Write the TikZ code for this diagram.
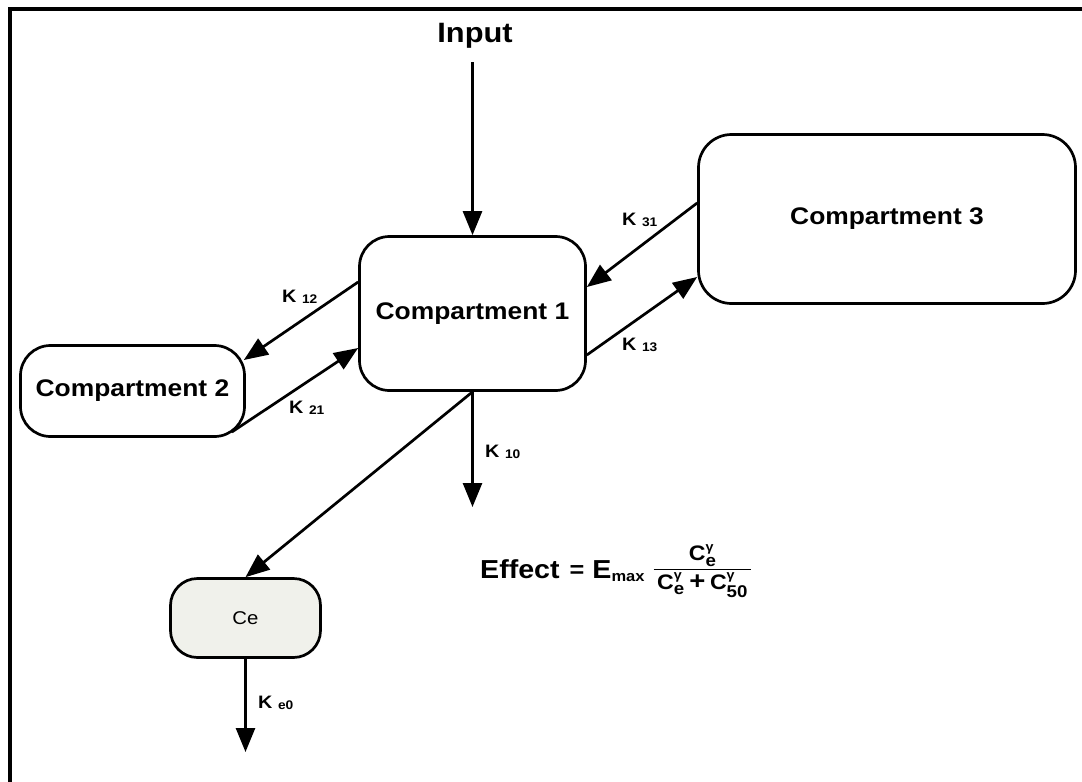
\documentclass[tikz,border=0pt]{standalone}
\usepackage{amsmath}
\usepackage{fontspec}
\setmainfont{Liberation Sans}[FakeStretch=1.1]
\usetikzlibrary{arrows.meta}

\definecolor{cefill}{RGB}{240,241,235}

% rate-constant label: bold K with a lowered index
\newcommand\ratelab[1]{\fontsize{18}{18}\selectfont K \raisebox{-1.5pt}{\fontsize{12.5}{12.5}\selectfont #1}}
% C with gamma exponent and an index
\newcommand\cgam[1]{\text{C}^{\text{\fontsize{13}{13}\selectfont γ}}_{\text{\fontsize{17}{17}\selectfont #1}}}
\newcommand\boldplus{\mathbin{\text{\fontsize{25}{25}\selectfont +}}}

\begin{document}
\begin{tikzpicture}[x=1pt,y=-1pt,
  comp/.style={draw, line width=2.7pt, rounded corners=#1, inner sep=0pt,
               font=\bfseries\fontsize{24}{24}\selectfont},
  arr/.style={line width=2.7pt, -{Triangle[length=24pt,width=19pt]}},
  klabel/.style={anchor=base west, inner sep=0pt, font=\bfseries}]
\useasboundingbox (0,0) rectangle (1082,782);

% frame
\draw[line width=4pt] (10,784) -- (10,9) -- (1084,9);

% compartments
\node[comp=30pt, minimum width=226pt, minimum height=154pt] (c1) at (472.5,313.5) {Compartment 1};
\node[comp=30pt, minimum width=224pt, minimum height=91pt]  (c2) at (132.5,391) {Compartment 2};
\node[comp=33pt, minimum width=377pt, minimum height=169pt] (c3) at (887,219) {Compartment 3};
\node[comp=27pt, minimum width=150pt, minimum height=79pt, fill=cefill,
      font=\fontsize{18.5}{18.5}\selectfont] (ce) at (245.5,618) {Ce};

\node[font=\bfseries\fontsize{28}{28}\selectfont, inner sep=0pt, anchor=base] (input) at (475,42) {Input};

% free ends of the open arrows
\coordinate (inStart) at (472.5,62);
\coordinate (k10End) at (472.5,507);
\coordinate (ke0End) at (245.5,752);

% connectors
\draw[arr] (inStart) -- (c1.north);
\draw[arr] ([yshift=31.5pt]c1.west) -- ([xshift=-2pt,yshift=31pt]c2.east);
\draw[arr] ([xshift=-14pt,yshift=-41pt]c2.east) -- ([yshift=-34.5pt]c1.west);
\draw[arr] ([yshift=16pt]c3.west) -- ([yshift=26.5pt]c1.east);
\draw[arr] ([yshift=-41.5pt]c1.east) -- ([yshift=-58pt]c3.west);
\draw[arr] (c1.south) -- (k10End);
\draw[arr] (c1.south) -- (ce.north);
\draw[arr] (ce.south) -- (ke0End);

% rate constants
\node[klabel] (k12) at (282,302) {\ratelab{12}};
\node[klabel] (k21) at (289,413) {\ratelab{21}};
\node[klabel] (k31) at (622,225) {\ratelab{31}};
\node[klabel] (k13) at (622,350) {\ratelab{13}};
\node[klabel] (k10) at (485,457) {\ratelab{10}};
\node[klabel] (ke0) at (258,708) {\ratelab{e0}};

% Emax model
\node[anchor=base west, inner sep=0pt, font=\bfseries\fontsize{26}{26}\selectfont] (effect) at (480,578)
  {Effect\hspace{10pt}\raisebox{1pt}{\fontsize{23}{23}\selectfont =}\hspace{8pt}E\raisebox{-3.5pt}{\fontsize{15}{15}\selectfont max}\hspace{8pt}%
   \raisebox{3pt}{\fontsize{21}{21}\selectfont$\displaystyle\frac{\cgam{e}}{\,\cgam{e}\boldplus\cgam{50}\,}$}};
\end{tikzpicture}
\end{document}
